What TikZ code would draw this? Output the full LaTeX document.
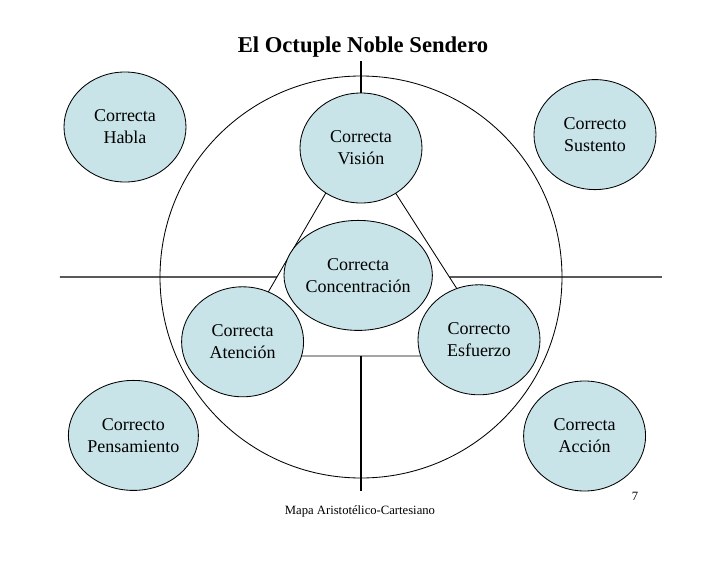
\documentclass[tikz,border=0pt]{standalone}
\usepackage{fontspec}
\setmainfont{Liberation Serif}
\usetikzlibrary{shapes.geometric,calc,backgrounds}
\definecolor{virtueblue}{RGB}{200,228,232}
\tikzset{
	virtue/.style={ellipse, draw, fill=virtueblue, line width=0.6pt,
		minimum width=3.05cm, minimum height=2.75cm, inner sep=0pt,
		align=center, font=\fontsize{12.8}{15.6}\selectfont},
	axis/.style={line width=0.75pt}
}

\begin{document}
\begin{tikzpicture}
	\useasboundingbox (-9.025,-7.15) rectangle (9.175,6.925);
	% title
	\node[font=\bfseries\fontsize{16.1}{19}\selectfont] (title) at (0.05,5.75) {El Octuple Noble Sendero};
	% inner triangle
	\node[virtue] (vision) at (0,3.225) {Correcta\\Visión};
	\node[virtue] (concentracion) at (-0.07,0.04) {Correcta\\Concentración};
	\node[virtue] (atencion) at (-2.96,-1.62) {Correcta\\Atención};
	\node[virtue] (esfuerzo) at (2.95,-1.57) {Correcto\\Esfuerzo};
	% corners
	\node[virtue] (habla) at (-5.9,3.75) {Correcta\\Habla};
	\node[virtue] (sustento) at (5.85,3.56) {Correcto\\Sustento};
	\node[virtue] (pensamiento) at (-5.69,-3.96) {Correcto\\Pensamiento};
	\node[virtue] (accion) at (5.59,-3.975) {Correcta\\Acción};
	% footer
	\node[font=\fontsize{9}{11}\selectfont] (footer) at (-0.025,-5.85) {Mapa Aristotélico-Cartesiano};
	\node[font=\fontsize{9}{11}\selectfont] (page) at (6.85,-5.475) {7};
	\begin{scope}[on background layer]
		\draw[line width=0.6pt] (0,0) circle (5.025);
		\coordinate (apex) at (-0.05,3.525);
		\coordinate (lowleft) at (-3.25,-1.975);
		\coordinate (lowright) at (3.475,-1.975);
		\draw[line width=0.6pt] (apex) -- (lowleft) -- (lowright) -- cycle;
		% axes
		\coordinate (west) at (-7.525,0);
		\coordinate (east) at (7.525,0);
		\coordinate (north) at (0,5.4);
		\coordinate (base) at (0,-1.975);
		\coordinate (south) at (0,-5.35);
		\draw[axis] (west) -- ($(apex)!0.641!(lowleft)$);
		\draw[axis] (east) -- ($(apex)!0.641!(lowright)$);
		\draw[axis] (north) -- (vision.north);
		\draw[axis] (base) -- (south);
	\end{scope}
\end{tikzpicture}
\end{document}
